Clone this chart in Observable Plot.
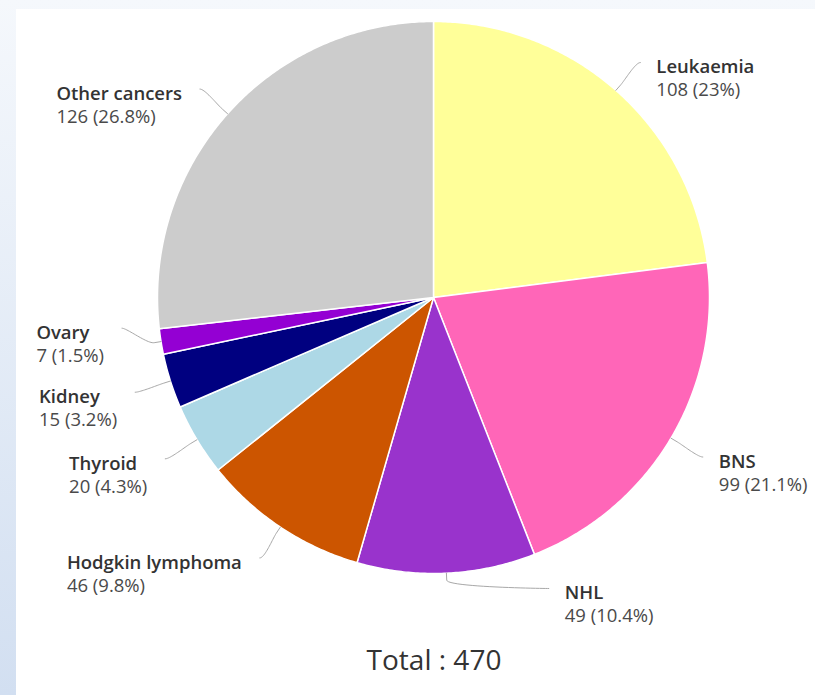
<!DOCTYPE html>
<html>
<head>
<meta charset="utf-8">
<script src="https://cdn.jsdelivr.net/npm/d3@7"></script>
<script src="https://cdn.jsdelivr.net/npm/@observablehq/plot@0.6"></script>
<style>
html, body { margin: 0; padding: 0; }
body {
  width: 815px; height: 695px; overflow: hidden; position: relative;
  background: linear-gradient(#f5f8fc, #d2dff1);
  font-family: "Open Sans", sans-serif;
}
#panel { position: absolute; left: 16px; top: 9px; width: 799px; height: 686px; background: #fff; }
#total { width: 836px; height: 36px; line-height: 36px; margin-top: 11px; text-align: center; font-size: 28px; color: #333; }
</style>
</head>
<body>
<div id="panel"><div id="chart"></div><div id="total"></div></div>
<script>
// ---- data ----
const categories = ["Leukaemia", "BNS", "NHL", "Hodgkin lymphoma", "Thyroid", "Kidney", "Ovary", "Other cancers"];
const counts = [108, 99, 49, 46, 20, 15, 7, 126];
const colors = ["#ffff99", "#ff66b8", "#9933cc", "#cc5500", "#add8e6", "#000080", "#9400d3", "#cccccc"];
const totalPrefix = "Total : ";

// ---- layout constants ----
const W = 799, H = 621;
const CX = 417, CY = 288;      // pie centre inside the svg
const R = 276, D = 313, GAP = 64, YMAX = 291, BREAK = 7;
const FS = 18.5;

const total = d3.sum(counts);
const pct = v => +(v / total * 100).toFixed(1) + "%";

let acc = 0;
const slices = categories.map((name, i) => {
  const a0 = acc / total * 2 * Math.PI;
  acc += counts[i];
  const a1 = acc / total * 2 * Math.PI;
  return {name, value: counts[i], a0, a1, mid: (a0 + a1) / 2};
});

// pie polygons
const piePts = [];
for (const s of slices) {
  piePts.push({name: s.name, x: 0, y: 0});
  const n = Math.max(2, Math.ceil((s.a1 - s.a0) / (Math.PI / 360)));
  for (let k = 0; k <= n; k++) {
    const a = s.a0 + (s.a1 - s.a0) * k / n;
    piePts.push({name: s.name, x: R * Math.sin(a), y: -R * Math.cos(a)});
  }
  piePts.push({name: s.name, x: 0, y: 0});
}

// label placement (distributed per side)
const labels = slices.map(s => ({...s, right: s.mid < Math.PI, y: -D * Math.cos(s.mid)}));
for (const side of [true, false]) {
  const g = labels.filter(l => l.right === side).sort((a, b) => a.y - b.y);
  for (let i = g.length - 1; i >= 0; i--) {
    const lim = i === g.length - 1 ? YMAX : g[i + 1].y - GAP;
    g[i].y = Math.min(g[i].y, lim);
  }
  for (let i = 1; i < g.length; i++) g[i].y = Math.max(g[i].y, g[i - 1].y + GAP);
}
const ctx = document.createElement("canvas").getContext("2d");
const textW = (t, font) => { ctx.font = font; return ctx.measureText(t).width; };
labels.forEach(l => {
  const dx = Math.sqrt(Math.max(0, D * D - l.y * l.y));
  l.x = l.right ? dx : -dx;
  l.valueText = `${l.value} (${pct(l.value)})`;
  const w = Math.max(textW(l.name, `600 ${FS}px "Open Sans"`), textW(l.valueText, `${FS}px "Open Sans"`));
  l.tx = l.right ? l.x + 16 : l.x - 18 - w;
});

// connectors
const connPts = [];
labels.forEach(l => {
  const s = Math.sin(l.mid), c = Math.cos(l.mid);
  const tx = R * s, ty = -R * c;
  const bx = (R + BREAK) * s, by = -(R + BREAK) * c;
  const p0 = [l.x, l.y], p1 = [l.x + (l.right ? -5 : 5), l.y], p2 = [2 * bx - tx, 2 * by - ty], p3 = [bx, by];
  for (let k = 0; k <= 24; k++) {
    const t = k / 24, u = 1 - t;
    const x = u*u*u*p0[0] + 3*u*u*t*p1[0] + 3*u*t*t*p2[0] + t*t*t*p3[0];
    const y = u*u*u*p0[1] + 3*u*u*t*p1[1] + 3*u*t*t*p2[1] + t*t*t*p3[1];
    connPts.push({name: l.name, x, y});
  }
  connPts.push({name: l.name, x: tx, y: ty});
});

const chart = Plot.plot({
  width: W, height: H, margin: 0,
  style: {fontFamily: '"Open Sans", sans-serif', background: "transparent"},
  x: {domain: [-CX, W - CX], range: [0, W], axis: null},
  y: {domain: [-CY, H - CY], range: [0, H], axis: null},
  color: {domain: categories, range: colors},
  marks: [
    Plot.line(piePts, {x: "x", y: "y", z: "name", fill: "name", stroke: "white", strokeWidth: 1.5, strokeLinejoin: "round"}),
    Plot.line(connPts, {x: "x", y: "y", z: "name", stroke: "#a8a8a8", strokeWidth: 1}),
    Plot.text(labels, {x: "tx", y: "y", text: "name", textAnchor: "start", dy: 5, fontSize: FS, fontWeight: 600, fill: "#333"}),
    Plot.text(labels, {x: "tx", y: "y", text: "valueText", textAnchor: "start", dy: 28, fontSize: FS, fill: "#4a4a4a"})
  ]
});
document.getElementById("chart").appendChild(chart);
document.getElementById("total").textContent = totalPrefix + total;
</script>
</body>
</html>
